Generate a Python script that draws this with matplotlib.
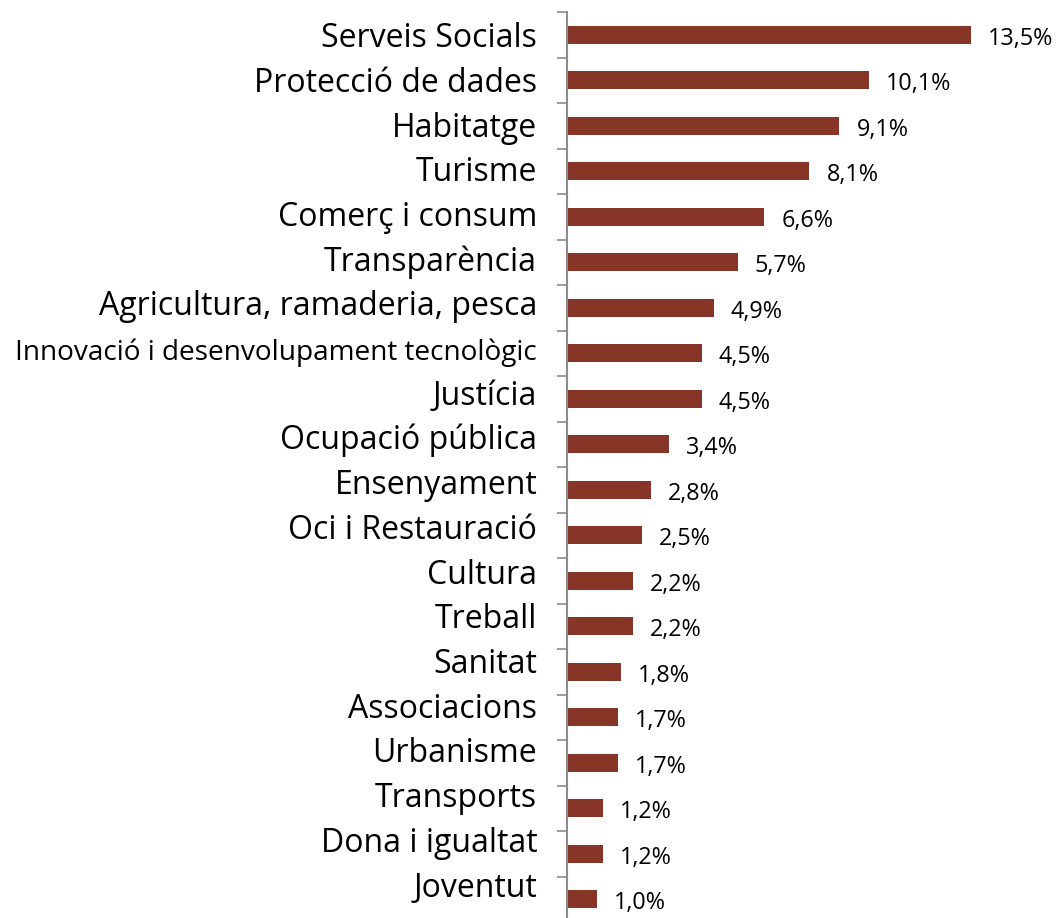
import numpy as np
import matplotlib.pyplot as plt

plt.rcParams['font.family'] = ['Open Sans', 'DejaVu Sans']

categories = ['Serveis Socials', 'Protecció de dades', 'Habitatge', 'Turisme',
              'Comerç i consum', 'Transparència', 'Agricultura, ramaderia, pesca',
              'Innovació i desenvolupament tecnològic', 'Justícia', 'Ocupació pública',
              'Ensenyament', 'Oci i Restauració', 'Cultura', 'Treball', 'Sanitat',
              'Associacions', 'Urbanisme', 'Transports', 'Dona i igualtat', 'Joventut']
values = [13.5, 10.1, 9.1, 8.1, 6.6, 5.7, 4.9, 4.5, 4.5, 3.4,
          2.8, 2.5, 2.2, 2.2, 1.8, 1.7, 1.7, 1.2, 1.2, 1.0]
labels = [f'{v:.1f}%'.replace('.', ',') for v in values]

bar_color = '#863527'
axis_color = '#8c8c8c'

fig = plt.figure(figsize=(10.58, 9.18), dpi=100)
ax = fig.add_axes([0.536, -0.0044, 0.464, 0.9913])

y = np.arange(len(categories))
ax.barh(y, values, height=0.4, color=bar_color)

ax.set_ylim(len(categories) - 0.5, -0.5)
ax.set_xlim(0, 16.42)

# category names to the left of the axis
for i, name in enumerate(categories):
    size = 20.2 if len(name) > 30 else 23
    ax.text(-1.0, 0.271 + 0.9826 * i, name, ha='right', va='baseline',
            fontsize=size, color='black', clip_on=False)

# value labels after each bar
for i, (v, lab) in enumerate(zip(values, labels)):
    ax.text(v + 0.58, i + 0.22, lab, ha='left', va='baseline',
            fontsize=16.8, color='black')

ax.set_yticks(np.arange(-0.5, len(categories) + 0.5, 1))
ax.set_yticklabels([])
ax.tick_params(axis='y', length=7, width=1.2, color=axis_color, direction='out')
ax.set_xticks([])
for side in ['top', 'right', 'bottom']:
    ax.spines[side].set_visible(False)
ax.spines['left'].set_color(axis_color)
ax.spines['left'].set_linewidth(1.5)

fig.savefig('out.png', dpi=100)
